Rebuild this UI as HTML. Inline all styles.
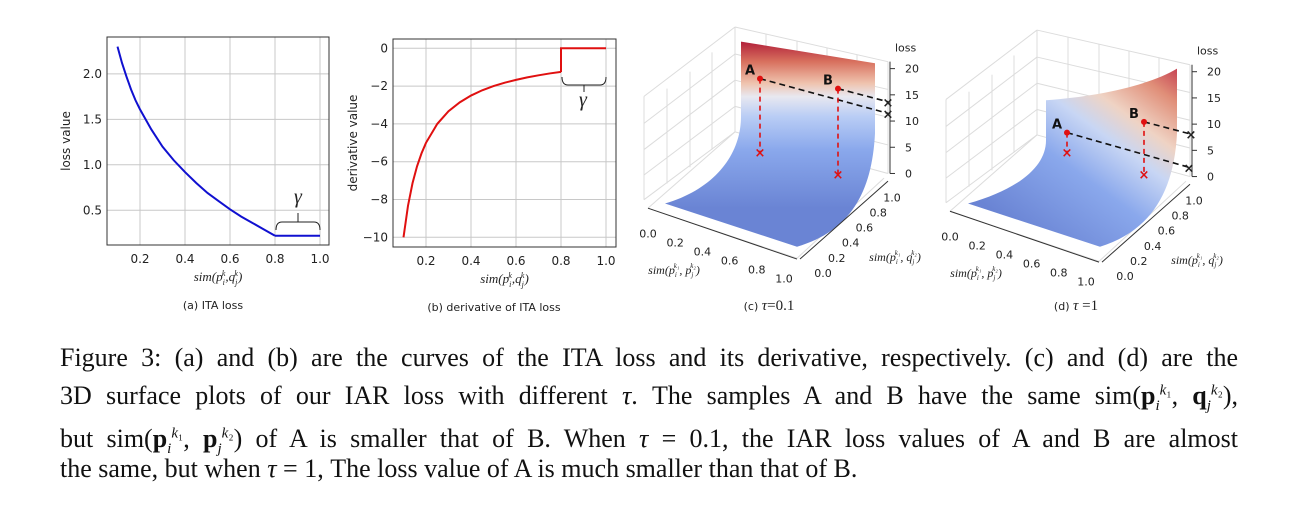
<!DOCTYPE html>
<html><head><meta charset="utf-8">
<style>
html,body{margin:0;padding:0;background:#fff;width:1298px;height:519px;overflow:hidden;}
svg{position:absolute;left:0;top:0;}
.ln{position:absolute;left:60px;width:1178px;font-family:"Liberation Serif",serif;font-size:26px;color:#111;line-height:29px;height:29px;text-align:justify;text-align-last:justify;white-space:nowrap;}
.ln.last{text-align-last:left;}
.ln sub,.ln sup{font-size:15px;line-height:0;}
.tk{font-family:"DejaVu Sans","Liberation Sans",sans-serif;font-size:12px;fill:#222;}
.it{font-family:"Liberation Serif",serif;font-style:italic;font-size:13px;fill:#222;}
.lb{font-family:"DejaVu Sans","Liberation Sans",sans-serif;font-size:11px;fill:#222;}
</style></head>
<body>
<svg id="fig" width="1298" height="519">
<defs>
<linearGradient id="gc" x1="0" y1="54" x2="0" y2="270" gradientUnits="userSpaceOnUse">
<stop offset="0" stop-color="#b2203a"/><stop offset="0.12" stop-color="#d8705e"/>
<stop offset="0.25" stop-color="#efc3ae"/><stop offset="0.33" stop-color="#e8e8f0"/>
<stop offset="0.45" stop-color="#b9cdf5"/><stop offset="0.65" stop-color="#8aa8ec"/>
<stop offset="1" stop-color="#6a84d4"/></linearGradient>
<linearGradient id="gd" x1="1000" y1="280" x2="1185" y2="85" gradientUnits="userSpaceOnUse">
<stop offset="0" stop-color="#6a84d4"/><stop offset="0.35" stop-color="#8aa8ec"/>
<stop offset="0.55" stop-color="#c8d6f4"/><stop offset="0.68" stop-color="#efd3c4"/>
<stop offset="0.85" stop-color="#e08e78"/><stop offset="1" stop-color="#c0304a"/></linearGradient>
</defs>
<g id="pa"></g>
<g id="pb"></g>
<g id="pc"></g>
<g id="pd"></g>
</svg>
<div>
<div class="ln" style="top:343px">Figure 3: (a) and (b) are the curves of the ITA loss and its derivative, respectively. (c) and (d) are the</div>
<div class="ln" style="top:381px">3D surface plots of our IAR loss with different <i>τ</i>. The samples A and B have the same sim(<b>p</b><sub><i>i</i></sub><sup><i>k</i>₁</sup>, <b>q</b><sub><i>j</i></sub><sup><i>k</i>₂</sup>),</div>
<div class="ln" style="top:424px">but sim(<b>p</b><sub><i>i</i></sub><sup><i>k</i>₁</sup>, <b>p</b><sub><i>j</i></sub><sup><i>k</i>₂</sup>) of A is smaller that of B. When <i>τ</i> = 0.1, the IAR loss values of A and B are almost</div>
<div class="ln last" style="top:454px">the same, but when <i>τ</i> = 1, The loss value of A is much smaller than that of B.</div>
</div>
<script>
const xs=[0.1,0.12,0.14,0.16,0.18,0.2,0.25,0.3,0.35,0.4,0.45,0.5,0.55,0.6,0.65,0.7,0.75,0.8];
const lossVals=[2.30,2.12,1.97,1.83,1.71,1.61,1.39,1.20,1.05,0.92,0.80,0.69,0.60,0.51,0.43,0.36,0.29,0.22];
const flatX=[0.8,1.0];
const flatLoss=[0.22,0.22];
const derivVals=[-10,-8.33,-7.14,-6.25,-5.56,-5,-4,-3.33,-2.86,-2.5,-2.22,-2,-1.82,-1.67,-1.54,-1.43,-1.33,-1.25];
const flatDeriv=[0,0];
const xTicks=[0.2,0.4,0.6,0.8,1.0];
const yTicksA=[0.5,1.0,1.5,2.0];
const yTicksB=[0,-2,-4,-6,-8,-10];
const NS='http://www.w3.org/2000/svg';
function el(p,t,a,txt){const e=document.createElementNS(NS,t);for(const k in a)e.setAttribute(k,a[k]);if(txt!==undefined)e.textContent=txt;p.appendChild(e);return e;}

function chart(g,o){
  const X=v=>o.x0+v*225, Y=v=>o.yz+v*o.ys;
  for(const t of xTicks){
    const l=el(g,'line',{x1:X(t),x2:X(t),y1:o.t,y2:o.b,stroke:'#c8c8c8','stroke-width':1});
    
    const tx=el(g,'text',{x:X(t),y:o.b+18,'text-anchor':'middle',class:'tk'},t.toFixed(1));
    
  }
  for(const t of o.yt){
    const l=el(g,'line',{x1:o.l,x2:o.r,y1:Y(t),y2:Y(t),stroke:'#c8c8c8','stroke-width':1});
    
    const tx=el(g,'text',{x:o.l-5,y:Y(t)+4,'text-anchor':'end',class:'tk'},o.fmt(t));
    
  }
  const fr=el(g,'rect',{x:o.l,y:o.t,width:o.r-o.l,height:o.b-o.t,fill:'none',stroke:'#333','stroke-width':1});
  
  let d='';xs.forEach((x,i)=>{d+=(i?'L':'M')+X(x)+','+Y(o.vals[i]);});
  const p=el(g,'path',{d:d,fill:'none',stroke:o.c,'stroke-width':2});
  
  let d2='M'+X(xs[xs.length-1])+','+Y(o.vals[o.vals.length-1]);
  flatX.forEach((x,i)=>{d2+='L'+X(x)+','+Y(o.flat[i]);});
  const p2=el(g,'path',{d:d2,fill:'none',stroke:o.c,'stroke-width':2});
  
  const cy=(o.t+o.b)/2;
  const yl=el(g,'text',{x:o.ylx,y:cy,'text-anchor':'middle',class:'lb',transform:`rotate(-90 ${o.ylx} ${cy})`,style:'font-size:12px'},o.ylab);
  
  const xl=el(g,'text',{x:(o.l+o.r)/2,y:o.b+36,'text-anchor':'middle',class:'it'});
  
  xl.innerHTML='sim(p<tspan font-size="8" dy="4">i</tspan><tspan font-size="8" dy="-9" dx="-3">k</tspan><tspan dy="5">,q</tspan><tspan font-size="8" dy="4">j</tspan><tspan font-size="8" dy="-9" dx="-3">k</tspan><tspan dy="5">)</tspan>';
  const cp=el(g,'text',{x:o.capx,y:o.capy,'text-anchor':'middle',class:'lb'},o.cap);
  
}
chart(document.getElementById('pa'),{x0:95,yz:255.7,ys:-90.9,l:107,r:329,t:37,b:245,yt:yTicksA,fmt:t=>t.toFixed(1),vals:lossVals,flat:flatLoss,c:'#1010d0',ylab:'loss value',ylx:70,cap:'(a) ITA loss',capx:213,capy:309});
chart(document.getElementById('pb'),{x0:381,yz:48.3,ys:-18.9,l:393,r:616,t:39,b:247,yt:yTicksB,fmt:t=>t<0?'\u2212'+(-t):''+t,vals:derivVals,flat:flatDeriv,c:'#e01010',ylab:'derivative value',ylx:357,cap:'(b) derivative of ITA loss',capx:494,capy:311});
{const g=document.getElementById('pb');const j=el(g,'line',{x1:561,x2:561,y1:72,y2:48.3,stroke:'#e01010','stroke-width':2});}
function brace(g,x1,x2,y,dir,gx,gy,ty1,ty2){
  const b=el(g,'path',{d:`M${x1},${y+dir*8} Q${x1},${y} ${x1+6},${y} L${x2-6},${y} Q${x2},${y} ${x2},${y+dir*8}`,fill:'none',stroke:'#222','stroke-width':1});
  
  el(g,'line',{x1:(x1+x2)/2,x2:(x1+x2)/2,y1:ty1,y2:ty2,stroke:'#222','stroke-width':1});
  const t=el(g,'text',{x:gx,y:gy,'text-anchor':'middle',class:'it',style:'font-size:20px'},'γ');
  
}
brace(document.getElementById('pa'),276,320,222,1,298,203,213,222);
brace(document.getElementById('pb'),562,606,85,-1,583,106,85,92);

const K=0.771;
function panel(g,dx,dy,surf,grad,pts,cap){
  const Y=v=>v*K;
  const gg=el(g,'g',{transform:`scale(1 ${K})`});
  const gl=[[644,125,735,35],[644,259,735,171],[644,125,644,259],[735,35,735,171],[735,35,888,80],[735,171,888,225],[888,80,888,225],
    [667,115,667,238],[690,93,690,217],[712,68,712,194],[766,44,766,181],[797,53,797,191],[827,62,827,200],[857,71,857,212],
    [644,160,735,70],[644,194,735,104],[644,227,735,138],[735,70,888,116],[735,104,888,152],[735,138,888,188],
    [648,270,797,335],[797,335,884,231],[648,270,735,171]];
  for(const l of gl){const e=el(gg,'line',{x1:l[0]+dx,y1:l[1]+dy,x2:l[2]+dx,y2:l[3]+dy,stroke:'#dcdcdc','stroke-width':1,'vector-effect':'non-scaling-stroke'});
    }
  const s=el(gg,'path',{d:surf,fill:grad});
  
  const zl=[20,15,10,5,0];
  zl.forEach(z=>{const y=Y(89+(225-89)*(20-z)/20+dy);
    el(g,'line',{x1:890+dx,x2:895+dx,y1:y,y2:y,stroke:'#333'});
    const t=el(g,'text',{x:905+dx,y:y+4,class:'tk',style:'font-size:11px'},''+z);
    });
  el(g,'line',{x1:890+dx,x2:890+dx,y1:Y(80+dy),y2:Y(225+dy),stroke:'#333'});
  const lt=el(g,'text',{x:895+dx,y:Y(67+dy),class:'tk',style:'font-size:11px'},'loss');
  const xt=['0.0','0.2','0.4','0.6','0.8','1.0'];
  xt.forEach((t,i)=>{const e=el(g,'text',{x:648+i*27.2+dx,y:Y(303+i*11.6+dy)+4,'text-anchor':'middle',class:'tk',style:'font-size:11px'},t);
    
    const e2=el(g,'text',{x:823+i*13.8+dx,y:Y(354-i*19.6+dy)+4,'text-anchor':'middle',class:'tk',style:'font-size:11px'},t);
    });
  el(g,'line',{x1:648+dx,y1:Y(270+dy),x2:797+dx,y2:Y(336+dy),stroke:'#333'});
  el(g,'line',{x1:800+dx,y1:Y(336+dy),x2:888+dx,y2:Y(235+dy),stroke:'#333'});
  const a=el(g,'text',{x:674+dx,y:Y(349+dy)+5,'text-anchor':'middle',class:'it',style:'font-size:12px'});
  a.innerHTML='sim(p<tspan font-size="7" dy="3">i</tspan><tspan font-size="7" dy="-9" dx="-3">k₁</tspan><tspan dy="6">, p</tspan><tspan font-size="7" dy="3">j</tspan><tspan font-size="7" dy="-9" dx="-3">k₂</tspan><tspan dy="6">)</tspan>';
  
  const b=el(g,'text',{x:895+dx,y:Y(332+dy)+5,'text-anchor':'middle',class:'it',style:'font-size:12px'});
  b.innerHTML='sim(p<tspan font-size="7" dy="3">i</tspan><tspan font-size="7" dy="-9" dx="-3">k₁</tspan><tspan dy="6">, q</tspan><tspan font-size="7" dy="3">j</tspan><tspan font-size="7" dy="-9" dx="-3">k₂</tspan><tspan dy="6">)</tspan>';
  
  for(const p of pts){
    const py=Y(p.y),ey=Y(p.ey),by=Y(p.by);
    const dl=el(g,'line',{x1:p.x,y1:py,x2:p.ex,y2:ey,stroke:'#111','stroke-width':1.6,'stroke-dasharray':'6,4'});
    
    el(g,'text',{x:p.ex,y:ey+5,'text-anchor':'middle',class:'tk',style:'font-size:13px;font-weight:bold'},'×');
    const vl=el(g,'line',{x1:p.x,y1:py,x2:p.x,y2:by,stroke:'#e01010','stroke-width':1.6,'stroke-dasharray':'5,4'});
    
    const bx=el(g,'text',{x:p.x,y:by+5,'text-anchor':'middle',class:'tk',style:'font-size:13px;fill:#e01010;font-weight:bold'},'×');
    
    const c=el(g,'circle',{cx:p.x,cy:py,r:3,fill:'#e01010'});
    
    const t=el(g,'text',{x:p.x-10,y:py-4,'text-anchor':'middle',class:'lb',style:'font-size:13px;font-weight:bold;fill:#111'},p.n);
    
  }
  const cp=el(g,'text',{x:[769,1076][dx?1:0],y:310,'text-anchor':'middle',class:'lb'});
  cp.innerHTML=cap;
}
panel(document.getElementById('pc'),0,0,'M741,54 L875,82 L875,173 C872,250 850,300 797,320 L665,264 C715,245 741,200 741,151 Z','url(#gc)',
 [{n:'A',x:760,y:102,ex:888,ey:147,by:197},{n:'B',x:838,y:115,ex:888,ey:132,by:226}],
 '(c) <tspan style="font-family:Liberation Serif;font-style:italic;font-size:15px">τ</tspan><tspan style="font-family:Liberation Serif;font-size:15px">=0.1</tspan>');
panel(document.getElementById('pd'),302,4,'M1046,130 C1100,125 1150,110 1177,89 L1177,173 C1174,250 1150,300 1100,320 L968,264 C1020,245 1046,215 1046,182 Z','url(#gd)',
 [{n:'A',x:1067,y:172,ex:1189,ey:217,by:197},{n:'B',x:1144,y:158,ex:1191,ey:174,by:226}],
 '(d) <tspan style="font-family:Liberation Serif;font-style:italic;font-size:15px">τ</tspan><tspan style="font-family:Liberation Serif;font-size:15px"> =1</tspan>');
</script>
</body></html>
